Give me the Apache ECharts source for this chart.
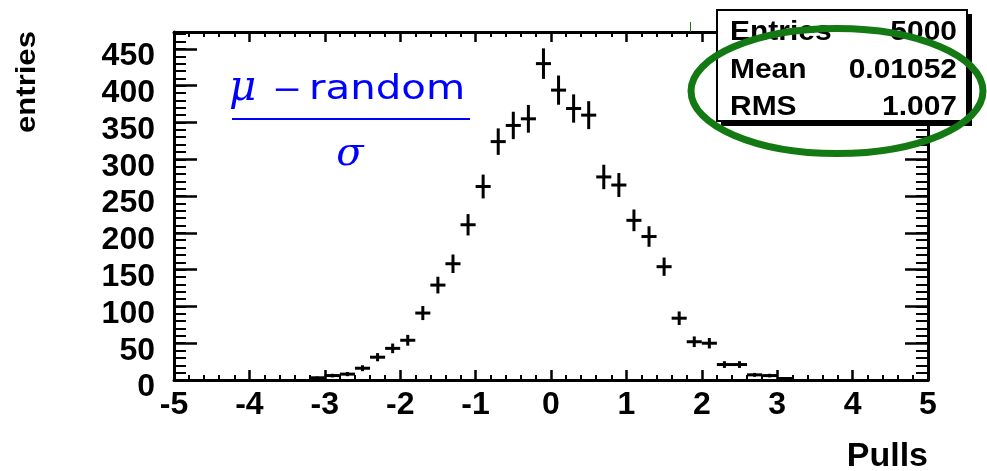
<!DOCTYPE html>
<html>
<head>
<meta charset="utf-8">
<script src="https://cdn.jsdelivr.net/npm/echarts@6/dist/echarts.min.js"></script>
<style>
  html, body { margin: 0; padding: 0; background: #fff; }
  #chart { width: 987px; height: 471px; }
</style>
</head>
<body>
<div id="chart"></div>
<script>
// Histogram of pulls: bin centres (width 0.2) and counts per bin
const binCenters = [-3.1, -2.9, -2.7, -2.5, -2.3, -2.1, -1.9, -1.7, -1.5, -1.3, -1.1, -0.9,
                    -0.7, -0.5, -0.3, -0.1, 0.1, 0.3, 0.5, 0.7, 0.9, 1.1, 1.3, 1.5,
                    1.7, 1.9, 2.1, 2.3, 2.5, 2.7, 2.9, 3.1];
const entries = [3, 6, 8, 16, 31, 43, 54, 91, 129, 158, 211, 263,
                 324, 346, 355, 430, 394, 369, 360, 276, 265, 217, 195, 154,
                 84, 52, 50, 21, 21, 7, 6, 2];
const binWidth = 0.2;

// Axis ranges
const xRange = [-5, 5];
const yRange = [0, 473];

// Statistics box
const statsNames = ['Entries', 'Mean', 'RMS'];
const statsValues = ['5000', '0.01052', '1.007'];

// Axis titles
const xTitle = 'Pulls';
const yTitle = 'entries';

const chart = echarts.init(document.getElementById('chart'), null, { renderer: 'canvas' });

const labelFont = {
  fontFamily: '"Liberation Sans", Arial, sans-serif',
  fontWeight: 'bold',
  fontSize: 32,
  color: '#000'
};

function xAxisDef(pos, withLabels) {
  return {
    type: 'value', position: pos, min: xRange[0], max: xRange[1], interval: 1,
    axisLine: { show: true, onZero: false, lineStyle: { color: '#000', width: 3 } },
    axisTick: { show: true, inside: true, length: 10, lineStyle: { color: '#000', width: 2.5 } },
    minorTick: { show: true, splitNumber: 5, length: 5, lineStyle: { color: '#000', width: 2 } },
    splitLine: { show: false },
    minorSplitLine: { show: false },
    axisLabel: withLabels ? Object.assign({ show: true, margin: 9 }, labelFont) : { show: false }
  };
}

function yAxisDef(pos, major, withLabels) {
  return {
    type: 'value', position: pos, min: yRange[0], max: yRange[1], interval: major ? 50 : 10,
    axisLine: { show: major, onZero: false, lineStyle: { color: '#000', width: 3 } },
    axisTick: { show: true, inside: true, length: major ? 23 : 12,
                lineStyle: { color: '#000', width: major ? 2.5 : 2 } },
    splitLine: { show: false },
    axisLabel: withLabels
      ? Object.assign({ show: true, margin: 19, showMaxLabel: false,
                        verticalAlign: 'top', lineHeight: 15 }, labelFont)
      : { show: false }
  };
}

// Histogram point with bin-width horizontal bar and sqrt(N) vertical error bar
function renderCross(params, api) {
  const x = api.value(0);
  const n = api.value(1);
  const err = Math.sqrt(n);
  const l = api.coord([x - binWidth / 2, n]);
  const r = api.coord([x + binWidth / 2, n]);
  const t = api.coord([x, n + err]);
  const b = api.coord([x, Math.max(0, n - err)]);
  const style = { stroke: '#000', lineWidth: 3 };
  return {
    type: 'group',
    children: [
      { type: 'line', shape: { x1: l[0], y1: l[1], x2: r[0], y2: r[1] }, style: style },
      { type: 'line', shape: { x1: t[0], y1: t[1], x2: b[0], y2: b[1] }, style: style }
    ]
  };
}

const blue = '#0000ff';
const green = '#137a13';
const statsFont = { fontFamily: '"Liberation Sans", Arial, sans-serif', fontWeight: 'bold', fontSize: 28 };
const statsRowsY = [32, 70, 107];

const graphics = [
  // formula (mu - random) / sigma
  { type: 'text', x: 229, y: 89, z: 50,
    style: { text: 'μ', fill: blue, fontFamily: '"DejaVu Serif", serif', fontStyle: 'italic',
             fontSize: 42, align: 'left', verticalAlign: 'middle' } },
  { type: 'text', x: 287, y: 91, scaleX: 1.2, z: 50,
    style: { text: '−', fill: blue, fontFamily: '"DejaVu Sans", sans-serif',
             fontSize: 30, align: 'center', verticalAlign: 'middle' } },
  { type: 'text', x: 309, y: 90, scaleX: 1.22, z: 50,
    style: { text: 'random', fill: blue, fontFamily: '"DejaVu Sans", sans-serif',
             fontSize: 33, align: 'left', verticalAlign: 'middle' } },
  { type: 'line', z: 50, shape: { x1: 232, y1: 119, x2: 470, y2: 119 },
    style: { stroke: blue, lineWidth: 2 } },
  { type: 'text', x: 350, y: 155, z: 50,
    style: { text: 'σ', fill: blue, fontFamily: '"DejaVu Serif", serif', fontStyle: 'italic',
             fontSize: 40, align: 'center', verticalAlign: 'middle' } },

  // axis titles
  { type: 'text', x: 928, y: 457, z: 50,
    style: { text: xTitle, fill: '#000', fontFamily: '"Liberation Sans", Arial, sans-serif',
             fontWeight: 'bold', fontSize: 34, align: 'right', verticalAlign: 'middle' } },
  { type: 'text', x: 28, y: 82, rotation: Math.PI / 2, scaleX: 1.15, z: 50,
    style: { text: yTitle, fill: '#000', fontFamily: '"Liberation Sans", Arial, sans-serif',
             fontWeight: 'bold', fontSize: 27, align: 'center', verticalAlign: 'middle' } },

  // statistics box with drop shadow
  { type: 'rect', z: 100, shape: { x: 721, y: 14, width: 251, height: 112 }, style: { fill: '#000' } },
  { type: 'rect', z: 101, shape: { x: 717, y: 10, width: 250, height: 111 },
    style: { fill: '#fff', stroke: '#000', lineWidth: 2 } }
];

statsNames.forEach(function (name, i) {
  graphics.push({ type: 'text', x: 730, y: statsRowsY[i], scaleX: 1.07, z: 102,
    style: Object.assign({ text: name, fill: '#000', align: 'left', verticalAlign: 'middle' }, statsFont) });
  graphics.push({ type: 'text', x: 957, y: statsRowsY[i], scaleX: 1.07, z: 102,
    style: Object.assign({ text: statsValues[i], fill: '#000', align: 'right', verticalAlign: 'middle' }, statsFont) });
});

// highlight ring around the statistics
graphics.push({ type: 'ellipse', z: 110, shape: { cx: 837, cy: 91, rx: 146, ry: 62.5 },
  style: { fill: 'none', stroke: green, lineWidth: 7 } });
graphics.push({ type: 'line', z: 110, shape: { x1: 690.5, y1: 22, x2: 690.5, y2: 32 },
  style: { stroke: green, lineWidth: 1 } });

chart.setOption({
  animation: false,
  backgroundColor: '#fff',
  grid: { left: 174, right: 59, top: 32, bottom: 91, containLabel: false },
  xAxis: [xAxisDef('bottom', true), xAxisDef('top', false)],
  yAxis: [yAxisDef('left', true, true), yAxisDef('left', false, false),
          yAxisDef('right', true, false), yAxisDef('right', false, false)],
  series: [{
    type: 'custom',
    xAxisIndex: 0,
    yAxisIndex: 0,
    renderItem: renderCross,
    encode: { x: 0, y: 1 },
    data: binCenters.map(function (c, i) { return [c, entries[i]]; }),
    z: 10
  }],
  graphic: graphics
});
</script>
</body>
</html>
